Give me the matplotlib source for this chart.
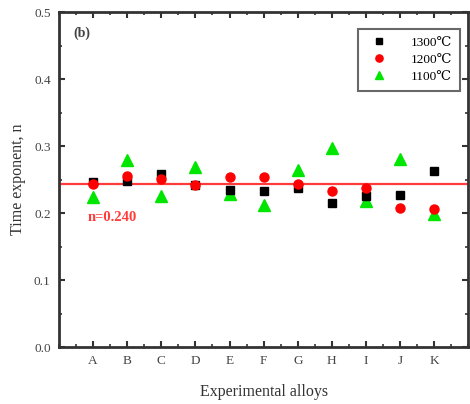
import matplotlib.pyplot as plt
from matplotlib.ticker import MultipleLocator

alloys = ["A", "B", "C", "D", "E", "F", "G", "H", "I", "J", "K"]
n_1300 = [0.246, 0.248, 0.259, 0.242, 0.234, 0.233, 0.238, 0.215, 0.225, 0.227, 0.263]
n_1200 = [0.244, 0.255, 0.251, 0.242, 0.254, 0.254, 0.244, 0.233, 0.237, 0.208, 0.206]
n_1100 = [0.224, 0.279, 0.225, 0.269, 0.229, 0.212, 0.264, 0.297, 0.218, 0.281, 0.199]
n_mean = 0.243

plt.rcParams['font.family'] = ['Liberation Serif', 'DejaVu Serif']

fig = plt.figure(figsize=(4.7, 4.04), dpi=100)
ax = fig.add_axes([0.1255, 0.141, 0.871, 0.829])

x = list(range(1, len(alloys) + 1))
ax.axhline(n_mean, color="#ff3b3b", lw=1.6, zorder=1)
ax.plot(x, n_1300, "s", color="black", ms=6, ls="none", label="1300℃", zorder=3)
ax.plot(x, n_1200, "o", color="red", ms=6.5, ls="none", label="1200℃", zorder=4)
ax.plot(x, n_1100, "^", color="#00e600", ms=8, ls="none", label="1100℃", zorder=2)

ax.set_xlim(0, 12)
ax.set_ylim(0, 0.5)
ax.set_xticks(x)
ax.set_xticklabels(alloys)
ax.xaxis.set_minor_locator(MultipleLocator(0.5))
ax.yaxis.set_major_locator(MultipleLocator(0.1))
ax.yaxis.set_minor_locator(MultipleLocator(0.05))
ax.yaxis.set_major_formatter(plt.FuncFormatter(lambda v, p: f"{v:.1f}"))

for s in ax.spines.values():
    s.set_linewidth(2)
    s.set_color("#333333")
ax.tick_params(which="both", direction="in", top=True, right=True, colors="#333333",
               labelsize=9.5, labelcolor="#444444")
ax.tick_params(which="major", length=4, width=1.5, pad=6)
ax.tick_params(which="minor", length=2, width=1.2)

ax.set_xlabel("Experimental alloys", fontsize=11.5, color="#333333", labelpad=12)
ax.set_ylabel("Time exponent, n", fontsize=11.5, color="#333333", labelpad=6)

ax.text(0.035, 0.925, "(b)", transform=ax.transAxes, fontsize=10, fontweight="bold", color="#444444")
ax.text(0.85, 0.193, "n=0.240", fontsize=10.5, color="#ff3b3b", fontweight="bold", va="center")

leg = ax.legend(loc="upper right", bbox_to_anchor=(0.98, 0.95), borderaxespad=0, fontsize=9.5,
                frameon=True, fancybox=False, edgecolor="#444444", handletextpad=1.4,
                borderpad=0.6, markerscale=0.8, labelspacing=0.35)
leg.get_frame().set_linewidth(1.5)

fig.savefig("out.png", dpi=100)
